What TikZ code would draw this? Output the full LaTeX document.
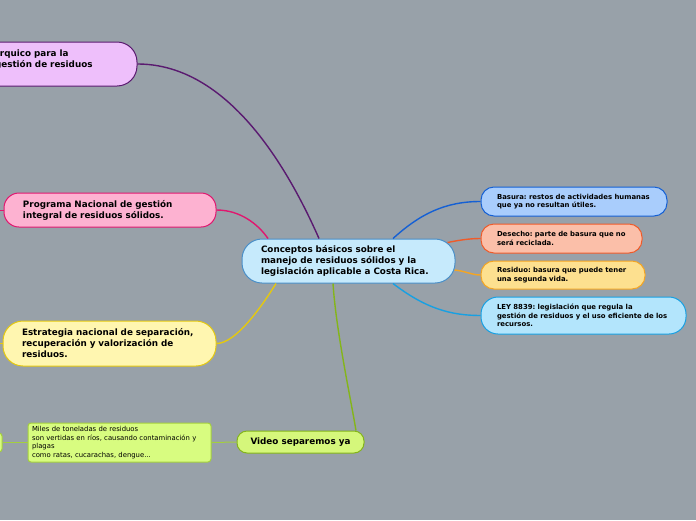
\documentclass[tikz,border=0pt]{standalone}
\usepackage{fontspec}
\setmainfont{DejaVu Sans}
\usetikzlibrary{calc}
\frenchspacing
\definecolor{bg}{HTML}{98A1A9}
\definecolor{cfill}{HTML}{C6EAFC}\definecolor{cline}{HTML}{4A8FC8}
\definecolor{pfill}{HTML}{EEBFFB}\definecolor{pline}{HTML}{5A1A70}
\definecolor{kfill}{HTML}{FDB2D1}\definecolor{kline}{HTML}{E0176F}
\definecolor{yfill}{HTML}{FFF6B0}\definecolor{yline}{HTML}{E4C810}
\definecolor{bfill}{HTML}{A9CDFC}\definecolor{bline}{HTML}{1560D4}
\definecolor{dfill}{HTML}{FBBFA9}\definecolor{dline}{HTML}{EF5B2A}
\definecolor{rfill}{HTML}{FDE08F}\definecolor{rline}{HTML}{F4A523}
\definecolor{lfill}{HTML}{B3E5FC}\definecolor{lline}{HTML}{18A0E2}
\definecolor{vfill}{HTML}{D5F77B}\definecolor{vline}{HTML}{84B51A}
\definecolor{mfill}{HTML}{D8FC80}\definecolor{mline}{HTML}{A4CF3E}
\tikzset{
  bigbox/.style={draw, line width=1pt, font=\bfseries\fontsize{8.8}{11}\selectfont,
    inner xsep=19pt, inner ysep=0pt, align=left},
  smallbox/.style={draw, line width=1pt, font=\bfseries\fontsize{6.9}{8.6}\selectfont,
    inner xsep=16pt, inner ysep=0pt, align=left},
  conn/.style={line width=1.4pt},
}
\begin{document}
\begin{tikzpicture}[x=1pt,y=-1pt]
\fill[bg] (0,0) rectangle (696,520);
\useasboundingbox (0,0) rectangle (696,520);

% central
\node[bigbox, fill=cfill, draw=cline, rounded corners=20pt, minimum height=44pt, text width=175pt]
  (c) at (348.5,261) {\mbox{Conceptos básicos sobre el}\\\mbox{manejo de residuos sólidos y la}\\\mbox{legislación aplicable a Costa Rica.}};

% left side
\node[bigbox, fill=pfill, draw=pline, rounded corners=20pt, minimum height=44pt, text width=123pt]
  (pur) at (56.5,64) {\hspace*{5pt}\mbox{rquico para la}\\\mbox{gestión de residuos}\\\mbox{}};
\node[bigbox, fill=kfill, draw=kline, rounded corners=15pt, minimum height=34pt, text width=174pt]
  (prog) at (110,210) {\mbox{Programa Nacional de gestión}\\\mbox{integral de residuos sólidos.}};
\node[bigbox, fill=yfill, draw=yline, rounded corners=20pt, minimum height=45pt, text width=175pt]
  (estr) at (109.5,343.5) {\mbox{Estrategia nacional de separación,}\\\mbox{recuperación y valorización de}\\\mbox{residuos.}};

% right side
\node[smallbox, fill=bfill, draw=bline, rounded corners=13pt, minimum height=29pt, text width=154pt]
  (bas) at (574,201.5) {\mbox{Basura: restos de actividades humanas}\\\mbox{que ya no resultan útiles.}};
\node[smallbox, fill=dfill, draw=dline, rounded corners=13pt, minimum height=29pt, text width=129pt]
  (des) at (561.5,238.5) {\mbox{Desecho: parte de basura que no}\\\mbox{será reciclada.}};
\node[smallbox, fill=rfill, draw=rline, rounded corners=13pt, minimum height=28pt, text width=132pt]
  (res) at (563,275) {\mbox{Residuo: basura que puede tener}\\\mbox{una segunda vida.}};
\node[smallbox, fill=lfill, draw=lline, rounded corners=17pt, minimum height=37pt, text width=173pt]
  (ley) at (583.5,315.5) {\mbox{LEY 8839: legislación que regula la}\\\mbox{gestión de residuos y el uso eficiente de los}\\\mbox{recursos.}};

% bottom
\node[draw=vline, fill=vfill, line width=1pt, rounded corners=10pt, minimum width=127pt, minimum height=22pt,
  inner sep=0pt, font=\bfseries\fontsize{8.8}{11}\selectfont]
  (vid) at (300.5,442) {Video separemos ya};
\node[draw=mline, fill=mfill, line width=1pt, rounded corners=3pt, minimum height=39pt, text width=175pt,
  inner xsep=4pt, inner ysep=0pt, align=left, font=\fontsize{6.85}{8.7}\selectfont]
  (mil) at (119.5,442.5) {\mbox{Miles de toneladas de residuos}\\\mbox{son vertidas en ríos, causando contaminación y}\\\mbox{plagas}\\\mbox{como ratas, cucarachas, dengue...}};
\node[draw=mline, fill=mfill, line width=1pt, rounded corners=3pt, minimum width=22pt, minimum height=19pt, inner sep=0pt]
  (lg) at (-9,442.5) {};

% off-canvas ends
\coordinate (kfree) at (-6,210);
\coordinate (yfree) at (-6,343.5);

% connectors
\draw[conn, pline] (pur.east) .. controls (220,64) and (280,150) .. ($(c.north)+(-29.5,0)$);
\draw[conn, kline] (prog.east) .. controls (240,210) and (258,224) .. ($(c.north)+(-80.5,0)$);
\draw[conn, yline] (estr.east) .. controls (236,343.5) and (262,306) .. ($(c.south)+(-72.5,0)$);
\draw[conn, vline] ($(c.south)+(-15.5,0)$) .. controls (336,330) and (350,395) .. ($(vid.north)+(55.5,0)$);
\draw[conn, bline] ($(c.north)+(44.5,0)$) .. controls (420,214) and (445,201.5) .. (bas.west);
\draw[conn, dline] ($(c.north east)+(-8,4)$) .. controls (460,240) and (470,238.5) .. (des.west);
\draw[conn, rline] ($(c.east)+(-1,9)$) .. controls (465,271) and (472,275) .. (res.west);
\draw[conn, lline] ($(c.south)+(44.5,0)$) .. controls (425,308) and (450,315.5) .. (ley.west);
\draw[line width=1pt, mline] (mil.east) -- (vid.west);
\draw[line width=1pt, mline] (lg.east) -- (mil.west);
\draw[line width=1pt, kline] (kfree) -- (prog.west);
\draw[line width=1pt, yline] (yfree) -- (estr.west);
\end{tikzpicture}
\end{document}
